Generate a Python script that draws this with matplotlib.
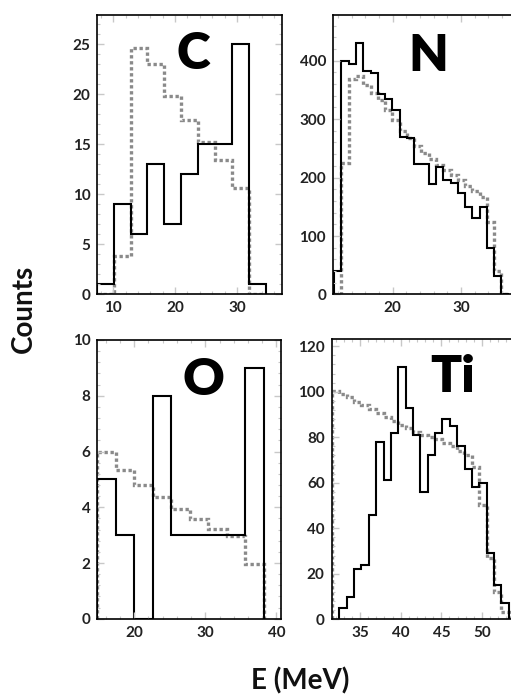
import numpy as np
import matplotlib
matplotlib.use("Agg")
import matplotlib.pyplot as plt
from matplotlib.ticker import AutoMinorLocator

plt.rcParams['font.family'] = ['Lato', 'DejaVu Sans']

# C panel (bins: start, width)
c_start, c_width = 7.3, 2.74
c_meas = [1, 9, 6, 13, 7, 12, 15, 15, 25, 1]
c_sim = [0, 3.8, 24.6, 23.0, 19.8, 17.4, 15.2, 13.4, 10.6, 0]

# N panel
n_start, n_width = 11.43, 1.065
n_meas = [40, 400, 395, 430, 382, 379, 343, 335, 316, 270, 267, 223,
          223, 189, 218, 196, 191, 174, 149, 131, 149, 80, 31, 0]
n_sim = [0, 225, 368, 374, 358, 344, 333, 316, 299, 279, 267, 254,
         242, 231, 222, 213, 205, 195, 186, 177, 167, 124, 40, 0]

# O panel
o_start, o_width = 14.8, 2.6
o_meas = [5, 3, 0, 8, 3, 3, 3, 3, 9]
o_sim = [6.0, 5.35, 4.8, 4.37, 3.95, 3.58, 3.23, 2.96, 1.95]

# Ti panel
ti_start, ti_width = 32.45, 0.906
ti_meas = [5, 10, 22, 24, 46, 78, 61, 82, 111, 93, 81, 56, 72, 82, 88,
           85, 76, 66, 58, 60, 29, 15, 7]
ti_sim_start = 31.54
ti_sim = [100.5, 99, 97.5, 95.5, 94, 92.5, 90.5, 89, 87, 85.5, 84, 82.5,
          81, 80, 79, 77.5, 76, 74, 72, 67, 50, 27, 12, 3]

panels = [
    dict(name='C', pos=[0.1904, 0.5781, 0.3615, 0.4004], xlim=(7.4, 37.3), ylim=(0, 27.9),
         xt=[10, 20, 30], yt=[0, 5, 10, 15, 20, 25],
         meas=(c_start, c_width, c_meas), sim=(c_start, c_width, c_sim), lab=(0.52, 0.862)),
    dict(name='N', pos=[0.6517, 0.5781, 0.3640, 0.4004], xlim=(11.26, 38.5), ylim=(0, 478),
         xt=[20, 30], yt=[0, 100, 200, 300, 400],
         meas=(n_start, n_width, n_meas), sim=(n_start, n_width, n_sim), lab=(0.51, 0.855)),
    dict(name='O', pos=[0.1904, 0.1135, 0.3590, 0.3994], xlim=(14.8, 40.6), ylim=(0, 10),
         xt=[20, 30, 40], yt=[0, 2, 4, 6, 8, 10],
         meas=(o_start, o_width, o_meas), sim=(o_start, o_width, o_sim), lab=(0.576, 0.857)),
    dict(name='Ti', pos=[0.6491, 0.1128, 0.3640, 0.4010], xlim=(31.5, 54.4), ylim=(0, 123),
         xt=[35, 40, 45, 50], yt=[0, 20, 40, 60, 80, 100, 120],
         meas=(ti_start, ti_width, ti_meas), sim=(ti_sim_start, ti_width, ti_sim), lab=(0.652, 0.866)),
]

fig = plt.figure(figsize=(5.11, 6.98), dpi=100)

for p in panels:
    ax = fig.add_axes(p['pos'])
    s0, w0, sim = p['sim']
    ax.stairs(sim, s0 + w0 * np.arange(len(sim) + 1), baseline=0,
              color='#8a8a8a', lw=2.4, linestyle=(0, (1, 0.8)))
    s1, w1, meas = p['meas']
    ax.stairs(meas, s1 + w1 * np.arange(len(meas) + 1), baseline=0,
              color='black', lw=1.5)
    ax.set_xlim(*p['xlim'])
    ax.set_ylim(*p['ylim'])
    ax.set_xticks(p['xt'])
    ax.set_yticks(p['yt'])
    ax.xaxis.set_minor_locator(AutoMinorLocator(5))
    ax.yaxis.set_minor_locator(AutoMinorLocator(5))
    ax.tick_params(which='both', direction='in', top=True, right=True, color='#c8c8c8')
    ax.tick_params(which='major', length=5, width=1)
    ax.tick_params(which='minor', length=2.5, width=0.8)
    ax.tick_params(labelsize=11, labelcolor='#222222', pad=5)
    for lbl in ax.get_xticklabels() + ax.get_yticklabels():
        lbl.set_fontweight('bold')
    for sp in ax.spines.values():
        sp.set_linewidth(1.2)
    ax.text(p['lab'][0], p['lab'][1], p['name'], transform=ax.transAxes,
            ha='center', va='center', fontsize=37, fontweight='heavy')

fig.text(0.047, 0.557, 'Counts', rotation=90, ha='center', va='center',
         fontsize=20, fontweight='bold', color='#111111')
fig.text(0.588, 0.024, 'E (MeV)', ha='center', va='center',
         fontsize=20, fontweight='bold', color='#111111')

fig.savefig('out.png', dpi=100, facecolor='white')
